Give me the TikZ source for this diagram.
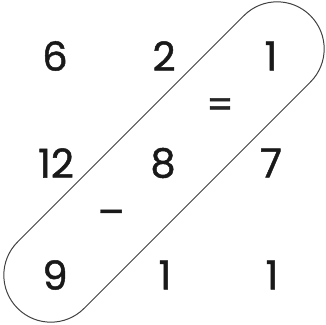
\documentclass[tikz,border=0pt]{standalone}
\usepackage{fontspec}
\setmainfont{Poppins}
\newfontfamily\numfont{Poppins}[FakeBold=1.2]
\begin{document}
\begin{tikzpicture}[x=1pt,y=1pt,
  num/.style={font=\numfont\fontsize{40}{40}\selectfont, text=black!90, inner sep=0pt},
  op/.style={font=\numfont\fontsize{38}{38}\selectfont, text=black!85, inner sep=0pt},
  loop/.style={draw=black!75, line width=1pt}]
\useasboundingbox (0,0) rectangle (326,324);
\node[num] (a1) at (55,268) {6};
\node[num] (a2) at (164,268) {2};
\node[num] (a3) at (271,268) {1};
\node[num] (b1) at (56,161) {12};
\node[num] (b2) at (163,161) {8};
\node[num] (b3) at (271,161) {7};
\node[num] (c1) at (55,49) {9};
\node[num] (c2) at (165,49) {1};
\node[num] (c3) at (272,49) {1};
\node[op] (eq) at (220,216) {=};
\node[num] (mi) at (111,106) {–};
\node[loop, rotate=45, minimum width=414pt, minimum height=94pt, rounded corners=46.9pt] (st) at (164,162) {};
\end{tikzpicture}
\end{document}
